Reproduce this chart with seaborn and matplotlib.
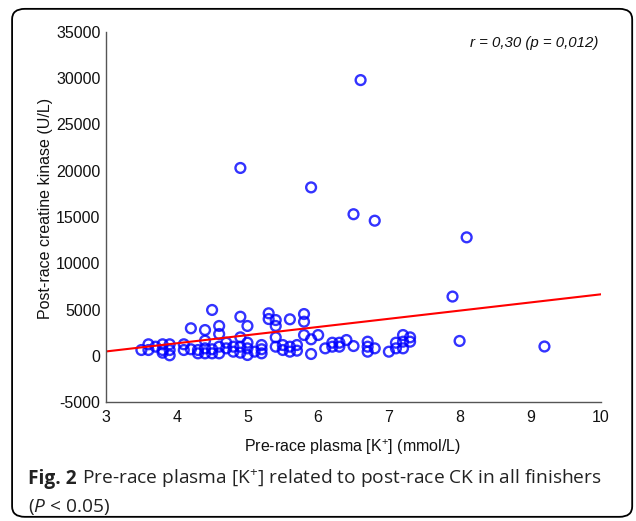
import matplotlib
matplotlib.use("Agg")
import matplotlib.pyplot as plt
import seaborn as sns
import pandas as pd
from matplotlib.patches import FancyBboxPatch

# pre-race plasma potassium (mmol/L) and post-race CK (U/L)
potassium = [3.5, 3.6, 3.6, 3.7, 3.8, 3.8, 3.8, 3.9, 3.9, 3.9,
             4.1, 4.1, 4.2, 4.2, 4.3, 4.3, 4.4, 4.4, 4.4, 4.4,
             4.5, 4.5, 4.5, 4.6, 4.6, 4.6, 4.6, 4.7, 4.7, 4.8, 4.8,
             4.9, 4.9, 4.9, 4.9, 4.9, 5.0, 5.0, 5.0, 5.0, 5.1,
             5.2, 5.2, 5.2, 5.3, 5.3, 5.4, 5.4, 5.4, 5.4, 5.5, 5.5,
             5.6, 5.6, 5.6, 5.7, 5.7, 5.8, 5.8, 5.8, 5.9, 5.9, 5.9,
             6.0, 6.1, 6.2, 6.2, 6.3, 6.3, 6.4, 6.5, 6.5, 6.6,
             6.7, 6.7, 6.7, 6.8, 6.8, 7.0, 7.1, 7.1, 7.2, 7.2, 7.2,
             7.3, 7.3, 7.9, 8.0, 8.1, 9.2]
ck = [620, 1240, 620, 980, 1240, 620, 330, 1240, 620, 50,
      1240, 620, 2970, 700, 620, 260, 2780, 1630, 800, 260,
      4950, 700, 260, 3220, 2350, 980, 260, 1410, 800, 980, 440,
      20300, 4220, 1990, 980, 330, 3220, 1410, 800, 80, 440,
      1160, 700, 260, 4590, 3970, 3860, 3220, 1990, 980, 1160, 620,
      3940, 980, 440, 1160, 550, 4510, 3680, 2240, 18200, 1780, 190,
      2240, 800, 1410, 980, 1410, 980, 1700, 15300, 1050, 29800,
      1520, 980, 440, 14600, 800, 440, 800, 1410, 2240, 1520, 800,
      1990, 1520, 6400, 1600, 12800, 1000]

df = pd.DataFrame({"k": potassium, "ck": ck})

sns.set_style("white")
plt.rcParams["font.family"] = ["Liberation Sans", "DejaVu Sans"]
plt.rcParams["axes.unicode_minus"] = False
plt.rcParams["mathtext.fontset"] = "custom"
plt.rcParams["mathtext.rm"] = "Open Sans"
plt.rcParams["mathtext.it"] = "Open Sans:italic"
plt.rcParams["mathtext.bf"] = "Open Sans:bold"

fig = plt.figure(figsize=(6.36, 5.21), dpi=100)
ax = fig.add_axes([0.1667, 0.2284, 0.7783, 0.7102])
ax.set_xlim(3, 10)
ax.set_ylim(-5000, 35000)

sns.regplot(data=df, x="k", y="ck", ax=ax, ci=None, truncate=False,
            marker="o",
            scatter_kws={"s": 50, "facecolors": "none", "edgecolors": "#0000ff",
                         "linewidths": 1.7},
            line_kws={"color": "#ff0000", "lw": 1.5})

ax.set_xlim(3, 10)
ax.set_ylim(-5000, 35000)
ax.set_xticks(range(3, 11))
ax.set_yticks(range(-5000, 35001, 5000))
ax.set_xticks([3 + i * 0.25 for i in range(29)], minor=True)
ax.set_yticks(range(-5000, 35001, 1000), minor=True)
ax.tick_params(which="major", direction="in", length=4, width=0.8,
               color="#444444", labelsize=11.5, labelcolor="#111111")
ax.tick_params(axis="x", which="major", pad=6)
ax.tick_params(axis="y", which="major", pad=4)
ax.tick_params(which="minor", direction="in", length=2, width=0.7,
               color="#444444")
for s in ["top", "right"]:
    ax.spines[s].set_visible(False)
for s in ["left", "bottom"]:
    ax.spines[s].set_color("#555555")
    ax.spines[s].set_linewidth(1.0)

ax.set_xlabel("Pre-race plasma [K$^{+}$] (mmol/L)", fontsize=11.5, color="#111111")
ax.set_ylabel("Post-race creatine kinase (U/L)", fontsize=11.5, color="#111111")
ax.xaxis.set_label_coords(0.497, -0.095)
ax.yaxis.set_label_coords(-0.108, 0.524)

ax.text(0.994, 0.99, "r = 0,30 (p = 0,012)", transform=ax.transAxes,
        ha="right", va="top", fontsize=10.8, style="italic", color="#111111")

# caption: bold "Fig. 2" followed by the regular text
cap_size = 13.8
cap_col = "#222222"
fig_lbl = fig.text(0.044, 0.0715, "Fig. 2", fontsize=cap_size, family="Open Sans",
                   weight="bold", color=cap_col, va="baseline")
r = fig.canvas.get_renderer()
bb = fig_lbl.get_window_extent(renderer=r)
x_next = (bb.x1 + 5) / fig.bbox.width
fig.text(x_next, 0.0715,
         "Pre-race plasma [K$^{+}$] related to post-race CK in all finishers",
         fontsize=cap_size, family="Open Sans", color=cap_col, va="baseline")
fig.text(0.044, 0.0165, r"($\mathit{P}$ < 0.05)",
         fontsize=cap_size, family="Open Sans", color=cap_col, va="baseline")

frame = FancyBboxPatch((0.019, 0.008), 0.975, 0.975,
                       boxstyle="round,pad=0,rounding_size=0.02",
                       transform=fig.transFigure, fill=False,
                       edgecolor="black", lw=1.3)
fig.patches.append(frame)

fig.savefig("out.png", dpi=100)
